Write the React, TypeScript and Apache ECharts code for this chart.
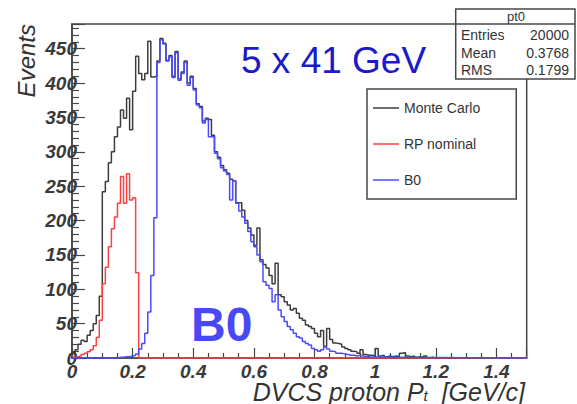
import { useEffect, useRef } from "react";
import * as echarts from "echarts";

const BIN_WIDTH = 0.01;
const X_MAX = 1.5;
const Y_MAX = 486;
const X_INTERVAL = 0.2;
const Y_INTERVAL = 50;

const seriesNames = ["Monte Carlo", "RP nominal", "B0"];
const xTitle = "{a|DVCS proton P}{s|t}{a|  [GeV/c]}";
const yTitle = "Events";

// bin contents, bin i covers [i*0.01, (i+1)*0.01)
const monteCarlo = [
  8, 12, 20, 26, 24, 33, 40, 50, 62, 90,
  242, 257, 284, 300, 322, 336, 361, 349, 378, 332,
  388, 439, 414, 405, 414, 461, 409, 410, 432, 465,
  458, 433, 440, 410, 446, 406, 416, 432, 400, 410,
  392, 370, 366, 345, 349, 347, 324, 300, 292, 280,
  274, 269, 260, 258, 226, 226, 215, 200, 189, 179,
  164, 189, 143, 136, 131, 120, 108, 138, 92, 89,
  82, 77, 70, 72, 65, 58, 55, 48, 46, 43,
  36, 31, 40, 17, 43, 27, 22, 21, 20, 16,
  14, 12, 10, 9, 7, 12, 5, 4, 4, 3,
  14, 3, 4, 2, 3, 2, 3, 2, 7, 8,
  3, 2, 3, 1, 2, 1, 3, 0, 1, 0,
];

const rpNominal = [
  1, 2, 3, 5, 7, 9, 12, 18, 30, 55,
  108, 132, 162, 188, 205, 225, 264, 225, 268, 230,
  233, 124,
];

const b0 = [
  0, 0, 0, 0, 0, 0, 0, 0, 0, 0,
  0, 0, 0, 0, 0, 1, 1, 2, 2, 3,
  4, 6, 13, 21, 36, 67, 120, 204, 430, 463,
  457, 432, 438, 408, 444, 404, 414, 430, 397, 408,
  390, 368, 364, 342, 347, 322, 322, 298, 290, 277,
  272, 267, 230, 258, 225, 214, 205, 196, 184, 169,
  162, 150, 140, 111, 106, 101, 82, 92, 70, 60,
  53, 46, 41, 36, 31, 29, 24, 21, 19, 14,
  12, 10, 12, 16, 13, 10, 9, 7, 7, 6,
  5, 4, 4, 3, 4, 3, 2, 2, 1, 2,
  1, 1, 2, 1, 1,
];

const statsTitle = "pt0";
const statsLabels = ["Entries", "Mean", "RMS"];
const statsValues = ["20000", "0.3768", "0.1799"];

const FONT = "'Liberation Sans', Arial, Helvetica, sans-serif";
const FRAME = "#474747";
const TEXT = "#333333";
const LABEL = "#3a3a3a";
const COLORS = ["#3d3d3d", "#ff4040", "#4a4aff"];

function toSteps(vals: number[]) {
  const pts: number[][] = vals.map((v, i) => [+(i * BIN_WIDTH).toFixed(2), v]);
  pts.push([+(vals.length * BIN_WIDTH).toFixed(2), 0]);
  pts.push([X_MAX, 0]);
  return pts;
}

export default function App() {
  const ref = useRef<HTMLDivElement>(null);
  useEffect(() => {
    if (!ref.current) return;
    const chart = echarts.init(ref.current, null, { renderer: "svg" });
    const allSeries = [monteCarlo, rpNominal, b0];
    const statsRows: any[] = [];
    statsLabels.forEach((lab, i) => {
      const y = 35 + i * 17.5;
      statsRows.push({
        type: "text",
        x: 461,
        y,
        style: { text: lab, font: `14px ${FONT}`, fill: TEXT, align: "left", verticalAlign: "middle", textAlign: "left", textVerticalAlign: "middle" },
      });
      statsRows.push({
        type: "text",
        x: 569,
        y,
        style: { text: statsValues[i], font: `14px ${FONT}`, fill: TEXT, align: "right", verticalAlign: "middle", textAlign: "right", textVerticalAlign: "middle" },
      });
    });
    const option: any = {
      animation: false,
      backgroundColor: "#ffffff",
      grid: {
        left: 72,
        top: 24,
        width: 454.7,
        height: 334,
        show: true,
        borderColor: FRAME,
        borderWidth: 1.5,
        backgroundColor: "transparent",
        containLabel: false,
        outerBoundsMode: "none",
      },
      xAxis: {
        type: "value",
        min: 0,
        max: X_MAX,
        interval: X_INTERVAL,
        axisLine: { show: true, onZero: false, lineStyle: { color: FRAME, width: 1.5 } },
        axisTick: { show: true, inside: true, length: 10, lineStyle: { color: FRAME, width: 1.2 } },
        minorTick: { show: true, splitNumber: 4, length: 5, lineStyle: { color: FRAME, width: 1.2 } },
        splitLine: { show: false },
        axisLabel: {
          margin: 6,
          fontSize: 19,
          lineHeight: 14,
          fontStyle: "italic",
          fontWeight: "bold",
          fontFamily: FONT,
          color: LABEL,
          showMaxLabel: false,
          formatter: (v: number) => String(+v.toFixed(1)),
        },
      },
      yAxis: {
        type: "value",
        min: 0,
        max: Y_MAX,
        interval: Y_INTERVAL,
        axisLine: { show: true, onZero: false, lineStyle: { color: FRAME, width: 1.5 } },
        axisTick: { show: true, inside: true, length: 13, lineStyle: { color: FRAME, width: 1.2 } },
        minorTick: { show: true, splitNumber: 5, length: 7, lineStyle: { color: FRAME, width: 1.2 } },
        splitLine: { show: false },
        axisLabel: {
          margin: -5,
          fontSize: 19,
          lineHeight: 14,
          fontStyle: "italic",
          fontWeight: "bold",
          fontFamily: FONT,
          color: LABEL,
          showMaxLabel: false,
        },
        name: yTitle,
        nameLocation: "end",
        nameRotate: 90,
        nameGap: 0,
        nameTextStyle: {
          fontSize: 24,
          fontStyle: "italic",
          fontFamily: FONT,
          color: TEXT,
          align: "right",
          verticalAlign: "bottom",
          padding: [0, 0, 34, 0],
        },
      },
      legend: {
        orient: "vertical",
        left: 367,
        top: 89,
        data: seriesNames,
        icon: "rect",
        itemWidth: 26,
        itemHeight: 1.5,
        itemGap: 20,
        itemTextGap: 6,
        padding: [11, 36, 11, 6],
        borderColor: FRAME,
        borderWidth: 1.5,
        backgroundColor: "#ffffff",
        selectedMode: false,
        textStyle: { fontSize: 14, fontFamily: FONT, color: TEXT, lineHeight: 16 },
      },
      series: allSeries.map((vals, i) => ({
        name: seriesNames[i],
        type: "line",
        step: "end",
        symbol: "none",
        data: toSteps(vals),
        color: COLORS[i],
        lineStyle: { color: COLORS[i], width: 1.5 },
        z: 2 + i,
      })),
      graphic: [
        {
          type: "text",
          z: 100,
          x: 525,
          y: 379,
          style: {
            text: xTitle,
            align: "right",
            verticalAlign: "top",
            textAlign: "right",
            textVerticalAlign: "top",
            rich: {
              a: { fontSize: 25, lineHeight: 22, fontStyle: "italic", fontFamily: FONT, fill: TEXT, color: TEXT, verticalAlign: "top" },
              s: { fontSize: 15, lineHeight: 24, fontStyle: "italic", fontFamily: FONT, fill: TEXT, color: TEXT, verticalAlign: "bottom" },
            },
          },
        },
        {
          type: "group",
          z: 100,
          children: [
            { type: "rect", shape: { x: 455.7, y: 9, width: 119.3, height: 70 }, style: { fill: "#ffffff", stroke: FRAME, lineWidth: 1.5 } },
            { type: "line", shape: { x1: 455.7, y1: 24, x2: 575, y2: 24 }, style: { stroke: FRAME, lineWidth: 1.5 } },
            {
              type: "text",
              x: 516,
              y: 16.5,
              style: { text: statsTitle, font: `13px ${FONT}`, fill: TEXT, align: "center", verticalAlign: "middle", textAlign: "center", textVerticalAlign: "middle" },
            },
            ...statsRows,
          ],
        },
        {
          type: "text",
          z: 100,
          x: 241,
          y: 60.5,
          style: { text: "5 x 41 GeV", font: `37px ${FONT}`, fill: "#1a1acb", verticalAlign: "middle", textVerticalAlign: "middle" },
        },
        {
          type: "text",
          z: 100,
          x: 191,
          y: 324,
          style: { text: "B0", font: `bold 48px ${FONT}`, fill: "#4848f5", verticalAlign: "middle", textVerticalAlign: "middle" },
        },
      ],
    };
    chart.setOption(option);
    return () => chart.dispose();
  }, []);
  return (
    <div
      ref={ref}
      style={{ position: "fixed", left: 0, top: 0, width: 577, height: 404, background: "#fff" }}
    />
  );
}
